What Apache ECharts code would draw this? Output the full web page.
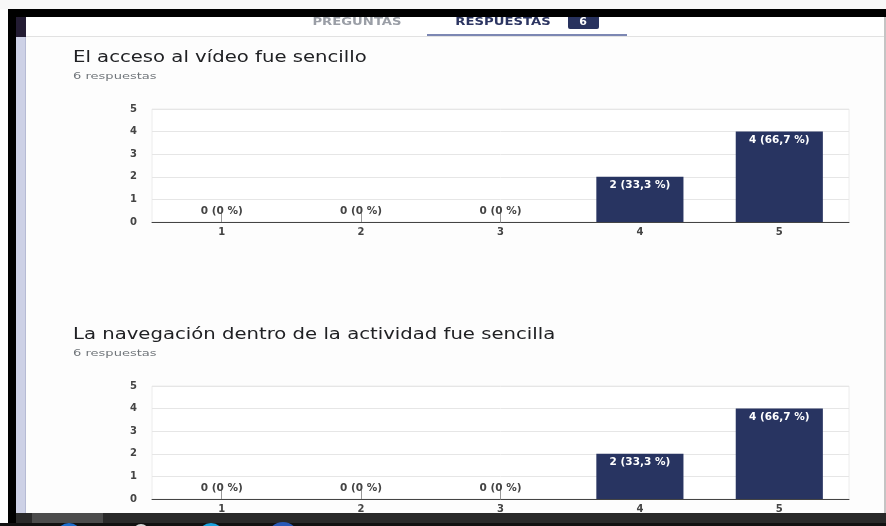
<!DOCTYPE html>
<html>
<head>
<meta charset="utf-8">
<script src="https://cdn.jsdelivr.net/npm/echarts@6/dist/echarts.min.js"></script>
<style>
  html, body { margin: 0; padding: 0; background: #fff; }
  #chart { width: 886px; height: 526px; }
</style>
</head>
<body>
<div id="chart"></div>
<script>
// datos
const categorias = ["1", "2", "3", "4", "5"];
const respuestasAcceso = [0, 0, 0, 2, 4];
const respuestasNavegacion = [0, 0, 0, 2, 4];
const totalRespuestas = 6;
const ejeYMax = 5;
const ejeYPaso = 1;
const titulos = [
  "El acceso al vídeo fue sencillo",
  "La navegación dentro de la actividad fue sencilla",
];

const azul = "#283461";
const fontChica = "DejaVu Sans";
// la captura esta estirada a lo ancho
const estiro = 1.31;

function etiqueta(v) {
  let pct = ((v / totalRespuestas) * 100).toFixed(1).replace(/\.0$/, "").replace(".", ",");
  return v + " (" + pct + " %)";
}

function datosBarras(vals) {
  return vals.map((v) => ({
    value: v,
    label: v === 0
      ? { position: "top", distance: 5, color: "#444" }
      : { position: "insideTop", distance: 3, color: "#fff" },
  }));
}

const grids = [
  { left: 152, top: 109, width: 697, height: 113 },
  { left: 152, top: 386, width: 697, height: 113 },
];
const titulosY = [58, 335];

var myChart = echarts.init(document.getElementById("chart"));

var textosTitulo = [];
titulos.forEach((t, i) => {
  textosTitulo.push({
    type: "text", z: 5, x: 73, y: titulosY[i], scaleX: estiro,
    style: { x: 0, y: 0, text: t, fill: "#202124", font: "15px DejaVu Sans", textVerticalAlign: "middle" },
  });
  textosTitulo.push({
    type: "text", z: 5, x: 73, y: titulosY[i] + 19, scaleX: 1.45,
    style: { x: 0, y: 0, text: totalRespuestas + " respuestas", fill: "#70757a", font: "9px DejaVu Sans", textVerticalAlign: "middle" },
  });
});

var option = {
  animation: false,
  grid: grids.map((g) => ({
    ...g,
    show: true,
    backgroundColor: "#fff",
    borderColor: "#ececec",
    borderWidth: 1,
  })),
  xAxis: [0, 1].map((i) => ({
    type: "category",
    gridIndex: i,
    data: categorias,
    axisLine: { lineStyle: { color: "#444", width: 1 } },
    axisTick: { show: true, inside: true, length: 9, alignWithLabel: true, lineStyle: { color: "#999" } },
    axisLabel: { color: "#444", fontFamily: fontChica, fontSize: 10, fontWeight: "bold", margin: 5 },
  })),
  yAxis: [0, 1].map((i) => ({
    type: "value",
    gridIndex: i,
    min: 0,
    max: ejeYMax,
    interval: ejeYPaso,
    axisLine: { show: false },
    axisTick: { show: false },
    splitLine: { lineStyle: { color: "#e6e6e6" } },
    axisLabel: { color: "#444", fontFamily: fontChica, fontSize: 10, fontWeight: "bold", margin: 15 },
  })),
  series: [respuestasAcceso, respuestasNavegacion].map((vals, i) => ({
    type: "bar",
    xAxisIndex: i,
    yAxisIndex: i,
    data: datosBarras(vals),
    barWidth: "62.5%",
    itemStyle: { color: azul },
    label: {
      show: true,
      fontFamily: fontChica,
      fontSize: 10.5,
      fontWeight: "bold",
      formatter: (p) => etiqueta(p.value),
    },
  })),
  graphic: {
    elements: [
      // fondo
      { type: "rect", z: -10, shape: { x: 0, y: 0, width: 886, height: 526 }, style: { fill: "#fdfdfd" } },
      { type: "rect", z: -9, shape: { x: 0, y: 0, width: 886, height: 9 }, style: { fill: "#f8f8f8" } },
      // cabecera
      { type: "rect", z: -9, shape: { x: 16, y: 17, width: 868, height: 20 }, style: { fill: "#fff" } },
      { type: "rect", z: -8, shape: { x: 16, y: 36, width: 868, height: 1 }, style: { fill: "#e2e2e2" } },
      { type: "rect", z: -7, shape: { x: 427, y: 34, width: 200, height: 2 }, style: { fill: "#7c87b3" } },
      { type: "text", z: 5, x: 357, y: 22, scaleX: 1.2, style: { x: 0, y: 0, text: "PREGUNTAS", fill: "#9a9ea6", font: "bold 11px DejaVu Sans", textAlign: "center", textVerticalAlign: "middle" } },
      { type: "text", z: 5, x: 503, y: 22, scaleX: 1.2, style: { x: 0, y: 0, text: "RESPUESTAS", fill: "#2c3561", font: "bold 11px DejaVu Sans", textAlign: "center", textVerticalAlign: "middle" } },
      { type: "rect", z: 5, shape: { x: 568, y: 13, width: 31, height: 16, r: 2 }, style: { fill: "#28325e" } },
      { type: "text", z: 6, style: { x: 583, y: 22, text: "6", fill: "#fff", font: "bold 11px DejaVu Sans", textAlign: "center", textVerticalAlign: "middle" } },
      ...textosTitulo,
      // marco negro
      { type: "rect", z: 50, shape: { x: 8, y: 9, width: 878, height: 8 }, style: { fill: "#000" } },
      { type: "rect", z: 50, shape: { x: 8, y: 9, width: 8, height: 517 }, style: { fill: "#000" } },
      // franja lateral
      { type: "rect", z: 40, shape: { x: 16, y: 17, width: 10, height: 500 }, style: { fill: "#cdd1e6" } },
      { type: "rect", z: 41, shape: { x: 16, y: 17, width: 10, height: 20 }, style: { fill: "#231c33" } },
      { type: "rect", z: 41, shape: { x: 25, y: 37, width: 1, height: 480 }, style: { fill: "#b6bbd4" } },
      // borde derecho
      { type: "rect", z: 40, shape: { x: 884, y: 17, width: 2, height: 500 }, style: { fill: "#c4c4c4" } },
      // barra inferior
      { type: "rect", z: 60, shape: { x: 16, y: 513, width: 870, height: 13 }, style: { fill: "#2a2a2a" } },
      { type: "rect", z: 61, shape: { x: 32, y: 513, width: 71, height: 13 }, style: { fill: "#4c4c4c" } },
      { type: "rect", z: 61, shape: { x: 0, y: 523, width: 886, height: 3 }, style: { fill: "#111" } },
      { type: "circle", z: 62, shape: { cx: 69, cy: 536, r: 13 }, style: { fill: "#1e6fd0" } },
      { type: "circle", z: 62, shape: { cx: 141, cy: 532, r: 8 }, style: { fill: "#d8d8d8" } },
      { type: "circle", z: 62, shape: { cx: 211, cy: 536, r: 13 }, style: { fill: "#1aa3e0" } },
      { type: "circle", z: 62, shape: { cx: 283, cy: 538, r: 16 }, style: { fill: "#2a5ab8" } },
    ],
  },
};

myChart.setOption(option);
</script>
</body>
</html>
